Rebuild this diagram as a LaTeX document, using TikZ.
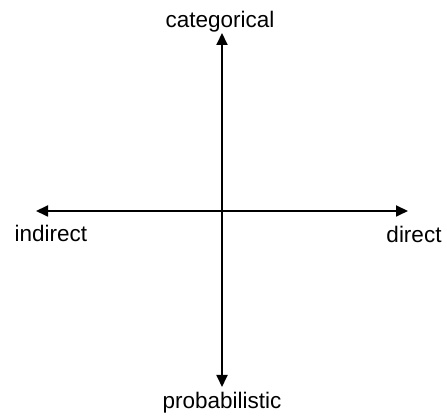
\documentclass[tikz,border=0pt]{standalone}
\usepackage{fontspec}
\setmainfont{Liberation Sans}
\usetikzlibrary{arrows.meta,positioning}

\tikzset{
  axis/.style={line width=1.8pt, -{Triangle[length=12pt,width=11pt]}},
  lbl/.style={font=\fontsize{22.5}{26}\selectfont, inner sep=0pt, anchor=base}
}

\begin{document}
\begin{tikzpicture}[x=1pt,y=1pt]
  \useasboundingbox (0,0) rectangle (447,419);

  % origin and axis ends
  \coordinate (o) at (222,208);
  \coordinate (top) at (222,386);
  \coordinate (bot) at (222,32);
  \coordinate (lft) at (36,208);
  \coordinate (rgt) at (408,208);

  % axes
  \draw[axis] (o) -- (top);
  \draw[axis] (o) -- (bot);
  \draw[axis] (o) -- (lft);
  \draw[axis] (o) -- (rgt);

  % labels
  \node[lbl] (cat) at (220,391) {categorical};
  \node[lbl] (ind) at (51,177) {indirect};
  \node[lbl] (dir) at (414,176) {direct};
  \node[lbl] (prob) at (222,10) {probabilistic};
\end{tikzpicture}
\end{document}
